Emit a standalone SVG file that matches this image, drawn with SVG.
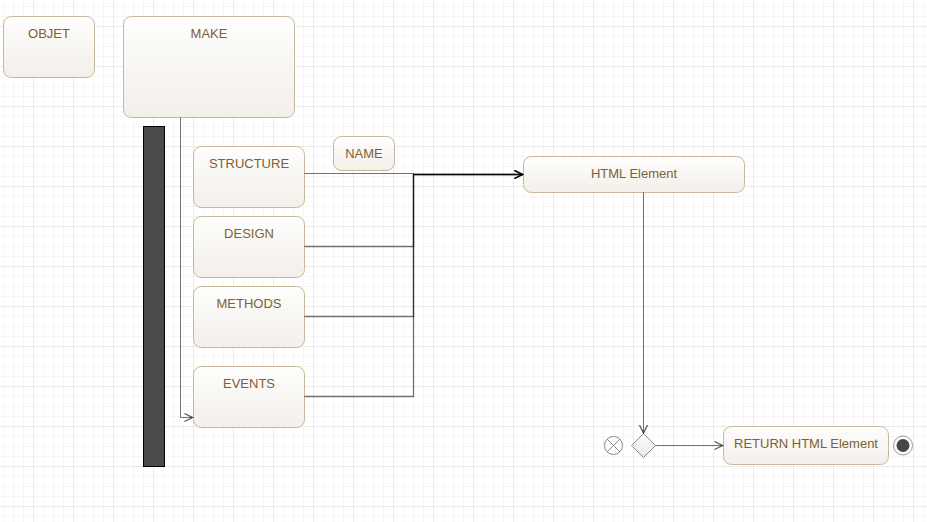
<svg xmlns="http://www.w3.org/2000/svg" width="927" height="522" viewBox="0 0 927 522">
<defs>
<pattern id="minor" x="3" y="6" width="10" height="10" patternUnits="userSpaceOnUse">
<path d="M0.5 0V10M0 0.5H10" stroke="#f6f6f6" stroke-width="1" fill="none"/>
</pattern>
<pattern id="major" x="33" y="26" width="40" height="40" patternUnits="userSpaceOnUse">
<path d="M0.5 0V40M0 0.5H40" stroke="#ebebeb" stroke-width="1" fill="none"/>
</pattern>
<linearGradient id="nodeFill" x1="0" y1="0" x2="0" y2="1">
<stop offset="0" stop-color="#fefefd"/>
<stop offset="1" stop-color="#f3efe9"/>
</linearGradient>
<linearGradient id="diaFill" x1="0" y1="0" x2="0" y2="1">
<stop offset="0" stop-color="#ffffff"/>
<stop offset="1" stop-color="#e6e6e6"/>
</linearGradient>
<marker id="arr" viewBox="0 0 10 10" refX="9" refY="5" markerWidth="10" markerHeight="10" markerUnits="userSpaceOnUse" orient="auto">
<path d="M1 1L9 5L1 9" fill="none" stroke="#000" stroke-opacity="0.65" stroke-width="1.3"/>
</marker>
</defs>
<style>
.node rect{fill:url(#nodeFill);stroke:#c8b89b;stroke-width:1}
.lbl{font-family:"Liberation Sans",Arial,sans-serif;font-size:13px;fill:#7d6034;text-anchor:middle}
.conn path{fill:none;stroke:#000;stroke-opacity:0.55;stroke-width:1}
.conn path.m{stroke-width:1.3}
</style>
<rect width="927" height="522" fill="#ffffff"/>
<rect width="927" height="522" fill="url(#minor)"/>
<rect width="927" height="522" fill="url(#major)"/>

<g id="objet" class="node">
<rect x="3.5" y="16.5" width="91" height="61" rx="8"/>
<text class="lbl" x="49" y="38">OBJET</text>
</g>
<g id="make" class="node">
<rect x="123.5" y="16.5" width="171" height="101" rx="8"/>
<text class="lbl" x="209" y="38">MAKE</text>
</g>
<g id="fork">
<rect x="143.5" y="126.5" width="21" height="340" fill="#4a4a4a" stroke="#000" stroke-width="1"/>
</g>
<g id="structure" class="node">
<rect x="193.5" y="146.5" width="111" height="61" rx="8"/>
<text class="lbl" x="249" y="168">STRUCTURE</text>
</g>
<g id="design" class="node">
<rect x="193.5" y="216.5" width="111" height="61" rx="8"/>
<text class="lbl" x="249" y="238">DESIGN</text>
</g>
<g id="methods" class="node">
<rect x="193.5" y="286.5" width="111" height="61" rx="8"/>
<text class="lbl" x="249" y="308">METHODS</text>
</g>
<g id="events" class="node">
<rect x="193.5" y="366.5" width="111" height="61" rx="8"/>
<text class="lbl" x="249" y="388">EVENTS</text>
</g>
<g id="name" class="node">
<rect x="333.5" y="136.5" width="61" height="34" rx="8"/>
<text class="lbl" x="364" y="158">NAME</text>
</g>
<g id="html" class="node">
<rect x="523.5" y="156.5" width="221" height="36" rx="8"/>
<text class="lbl" x="634" y="178">HTML Element</text>
</g>
<g id="return" class="node">
<rect x="723.5" y="426.5" width="165" height="38" rx="8"/>
<text class="lbl" x="806" y="448">RETURN HTML Element</text>
</g>
<g id="flowfinal">
<circle cx="613.5" cy="445.5" r="9" fill="#fff" stroke="#8a8a8a" stroke-width="1"/>
<path d="M607.1 439.1L619.9 451.9M619.9 439.1L607.1 451.9" stroke="#8a8a8a" stroke-width="1"/>
</g>
<g id="decision">
<path d="M643.5 433.5L655.5 445.5L643.5 457.5L631.5 445.5Z" fill="url(#diaFill)" stroke="#8a8a8a" stroke-width="1"/>
</g>
<g id="final">
<circle cx="903" cy="445.5" r="9.5" fill="#fff" stroke="#999" stroke-width="1"/>
<circle cx="903" cy="445.5" r="6.5" fill="#474747"/>
</g>

<g id="connectors" class="conn">
<path d="M180.5 117.5V417.5H192.5" marker-end="url(#arr)"/>
<path d="M304.5 173.5H413.5V174.5H522.5" marker-end="url(#arr)"/>
<path class="m" d="M304.5 246.5H413.5V174.5H522.5" marker-end="url(#arr)"/>
<path class="m" d="M304.5 316.5H413.5V174.5H522.5" marker-end="url(#arr)"/>
<path class="m" d="M304.5 396.5H413.5V174.5H522.5" marker-end="url(#arr)"/>
<path d="M643.5 192.5V433" marker-end="url(#arr)"/>
<path d="M655.5 445.5H722.5" marker-end="url(#arr)"/>
</g>
</svg>
